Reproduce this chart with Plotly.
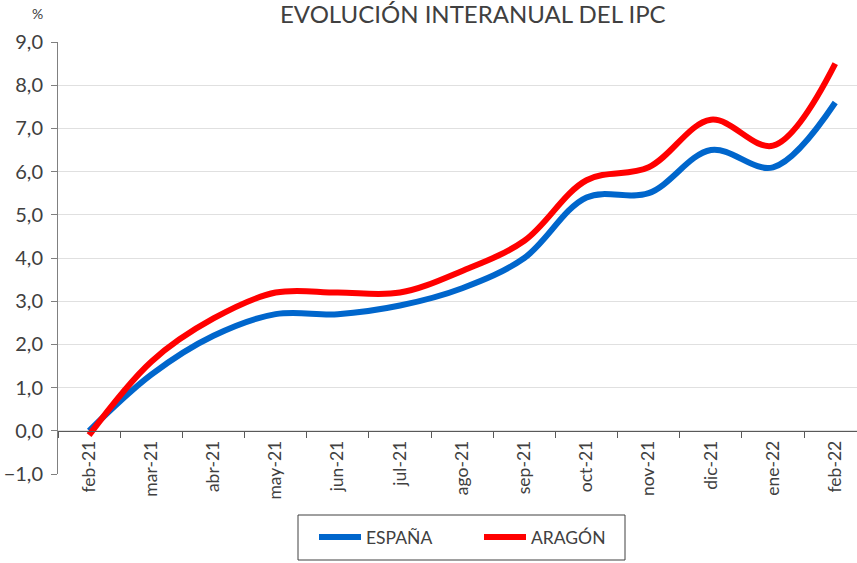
import plotly.graph_objects as go

months = ["feb-21", "mar-21", "abr-21", "may-21", "jun-21", "jul-21", "ago-21",
          "sep-21", "oct-21", "nov-21", "dic-21", "ene-22", "feb-22"]
espana = [0.0, 1.3, 2.2, 2.7, 2.7, 2.9, 3.3, 4.0, 5.4, 5.5, 6.5, 6.1, 7.6]
aragon = [-0.1, 1.6, 2.6, 3.2, 3.2, 3.2, 3.7, 4.4, 5.8, 6.1, 7.2, 6.6, 8.5]
y_ticks = [-1, 0, 1, 2, 3, 4, 5, 6, 7, 8, 9]

W, H = 857, 563
ML, MT, MB, MR = 58, 42, 89, 0
plot_h = H - MT - MB
plot_w = W - ML - MR

FONT = "Lato"
TXT = "#404040"


def px_x(p):
    return (p - ML) / plot_w


def px_y(p):
    return (H - MB - p) / plot_h


fig = go.Figure()
fig.add_trace(go.Scatter(x=months, y=espana, name="ESPAÑA", mode="lines",
                         line=dict(color="#0066CC", width=6, shape="spline", smoothing=1.0)))
fig.add_trace(go.Scatter(x=months, y=aragon, name="ARAGÓN", mode="lines",
                         line=dict(color="#FF0000", width=6, shape="spline", smoothing=1.0)))

zero_frac = (0 - (-1)) / (9 - (-1))

fig.update_layout(
    width=W, height=H,
    margin=dict(l=ML, r=MR, t=MT, b=MB, pad=0, autoexpand=False),
    paper_bgcolor="white", plot_bgcolor="white",
    separators=",.",
    font=dict(family=FONT, size=16, color=TXT),
    showlegend=True,
    legend=dict(orientation="h", x=px_x(314), xanchor="left",
                y=px_y(519), yanchor="top",
                borderwidth=0, bgcolor="rgba(0,0,0,0)",
                font=dict(family=FONT, size=17.5, color=TXT),
                entrywidth=108, itemwidth=42),
    xaxis=dict(type="category", range=[-0.5, 12.35], anchor="free", position=zero_frac,
               automargin=False,
               showline=True, linecolor="#595959", linewidth=1,
               ticks="outside", tickson="boundaries", ticklen=6, tickcolor="#595959",
               ticklabelstandoff=2,
               tickangle=-90, showgrid=False, zeroline=False,
               tickfont=dict(family=FONT, size=17.5, color=TXT)),
    yaxis=dict(range=[-1, 9], tickvals=y_ticks, tickformat=".1f", automargin=False,
               showline=True, linecolor="#808080", linewidth=1,
               ticks="outside", ticklen=6, tickcolor="#808080",
               ticklabelstandoff=4,
               showgrid=True, gridcolor="#E0E0E0", gridwidth=1, zeroline=False,
               tickfont=dict(family=FONT, size=20, color=TXT)),
    shapes=[
        dict(type="rect", xref="paper", yref="paper",
             x0=px_x(298), x1=px_x(625), y0=px_y(560), y1=px_y(515),
             line=dict(color="#404040", width=1), fillcolor="rgba(0,0,0,0)"),
    ],
    annotations=[
        dict(text="EVOLUCIÓN INTERANUAL DEL IPC", xref="paper", yref="paper",
             x=px_x(473), xanchor="center",
             y=px_y(30), yanchor="bottom", showarrow=False,
             font=dict(family=FONT, size=24, color=TXT)),
        dict(text="%", xref="paper", yref="paper",
             x=px_x(37), xanchor="center",
             y=px_y(14), yanchor="middle", showarrow=False,
             font=dict(family=FONT, size=14, color=TXT)),
    ],
)

fig.write_html("out.html", config={"displayModeBar": False},
               post_script="document.body.style.margin='0';document.body.style.overflow='hidden';")
